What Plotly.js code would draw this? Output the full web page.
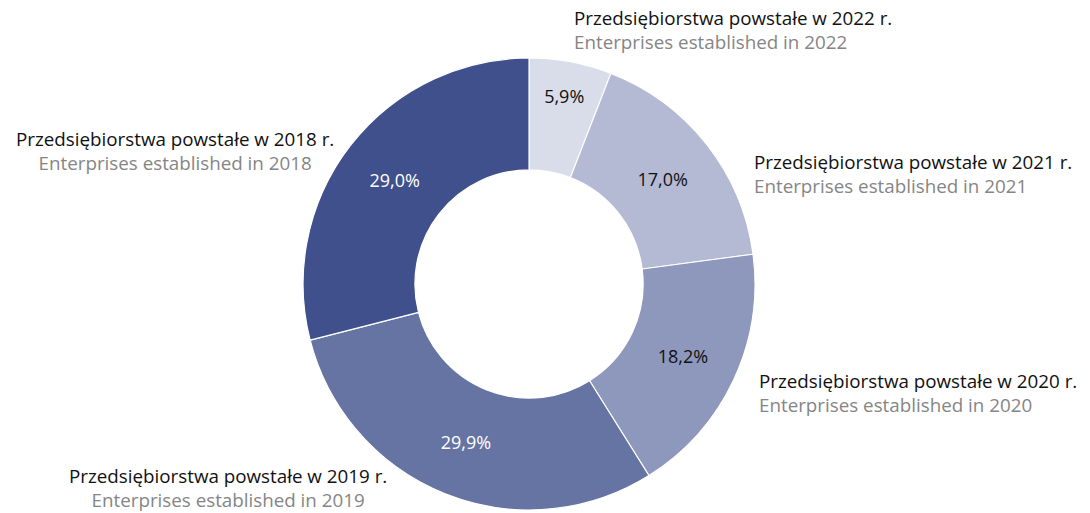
<!DOCTYPE html>
<html>
<head>
<meta charset="utf-8">
<script src="https://cdn.plot.ly/plotly-3.0.1.min.js"></script>
<style>html,body{margin:0;padding:0;background:#fff;}#chart{width:1090px;height:513px;}</style>
</head>
<body>
<div id="chart"></div>
<script>
// Data
const years = ['2022', '2021', '2020', '2019', '2018'];
const shares = [5.9, 17.0, 18.2, 29.9, 29.0];
const labelsPL = ['Przedsiębiorstwa powstałe w 2022 r.', 'Przedsiębiorstwa powstałe w 2021 r.', 'Przedsiębiorstwa powstałe w 2020 r.', 'Przedsiębiorstwa powstałe w 2019 r.', 'Przedsiębiorstwa powstałe w 2018 r.'];
const labelsEN = ['Enterprises established in 2022', 'Enterprises established in 2021', 'Enterprises established in 2020', 'Enterprises established in 2019', 'Enterprises established in 2018'];

const colors = ['#d9dde9', '#b4bad4', '#8e98bd', '#6674a3', '#40508c'];
const textColors = ['#111111', '#111111', '#111111', '#ffffff', '#ffffff'];
const FONT = 'Open Sans, sans-serif';

const trace = {
  type: 'pie',
  labels: years,
  values: shares,
  sort: false,
  direction: 'clockwise',
  rotation: 0,
  hole: 0.505,
  marker: {colors: colors, line: {color: '#ffffff', width: 1.2}},
  texttemplate: '%{value:.1f}%',
  textposition: 'inside',
  insidetextorientation: 'horizontal',
  insidetextfont: {family: FONT, size: 18, color: textColors},
  domain: {x: [0.2780, 0.6927], y: [0.0059, 0.8869]},
  showlegend: false,
  hoverinfo: 'label+value'
};

// label placements (paper coords) for the category annotations
const annPos = [
  {x: 0.5248, y: 0.9415, xanchor: 'left', align: 'left'},
  {x: 0.6899, y: 0.6608, xanchor: 'left', align: 'left'},
  {x: 0.6945, y: 0.2339, xanchor: 'left', align: 'left'},
  {x: 0.2092, y: 0.0497, xanchor: 'center', align: 'center'},
  {x: 0.1606, y: 0.7047, xanchor: 'center', align: 'center'}
];

const annotations = years.map((y, i) => ({
  xref: 'paper', yref: 'paper',
  x: annPos[i].x, y: annPos[i].y,
  xanchor: annPos[i].xanchor, yanchor: 'middle', align: annPos[i].align,
  showarrow: false,
  text: labelsPL[i] + '<br><span style="color:#858585">' + labelsEN[i] + '</span>',
  font: {family: FONT, size: 18.8, color: '#111111'}
}));

const layout = {
  width: 1090, height: 513,
  margin: {l: 0, r: 0, t: 0, b: 0},
  paper_bgcolor: '#ffffff',
  separators: ', ',
  annotations: annotations,
  showlegend: false
};

Plotly.newPlot('chart', [trace], layout, {displayModeBar: false, staticPlot: true});
</script>
</body>
</html>
